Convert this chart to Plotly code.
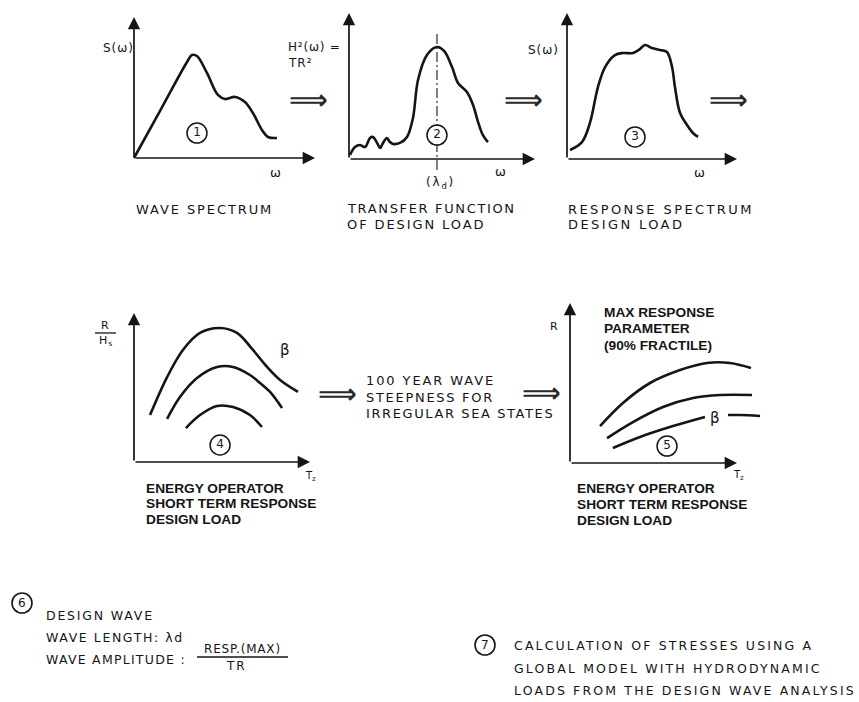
import plotly.graph_objects as go

W, H = 859, 702

# ---------------- data (in each panel's own axis units, 0..10) ----------------
# Panel 1: wave spectrum S(w)
p1_w = [0, 1.5, 2.93, 3.20, 3.48, 4.03, 4.64, 5.03, 5.58, 6.13, 6.57, 7.07, 7.40, 7.90]
p1_s = [0, 3.49, 6.81, 7.30, 7.23, 6.03, 4.47, 4.18, 4.33, 3.97, 3.19, 1.99, 1.49, 1.42]

# Panel 2: transfer function H^2(w)
p2_w = [0.05, 0.32, 0.59, 0.86, 1.13, 1.29, 1.51, 1.67, 1.83, 2.04, 2.20, 2.37, 2.74, 3.12,
        3.44, 3.71, 4.19, 4.73, 5.11, 5.54, 5.86, 6.34, 6.67, 6.94, 7.20, 7.47]
p2_h = [0.27, 0.82, 0.96, 0.82, 1.44, 1.51, 1.10, 0.75, 1.10, 1.44, 1.16, 1.03, 1.10, 1.51,
        2.81, 5.41, 7.12, 7.67, 7.40, 6.30, 5.21, 4.59, 3.70, 2.53, 1.64, 1.16]
p2_design_w = 4.73          # lambda_d position
p2_design_span = [-0.75, 8.70]

# Panel 3: response spectrum
p3_w = [0.18, 0.88, 1.35, 1.82, 2.24, 2.82, 3.29, 3.88, 4.29, 4.59, 5.00, 5.47, 5.88, 6.18,
        6.35, 6.65, 7.06, 7.41, 7.71]
p3_s = [0.62, 1.16, 2.47, 4.93, 6.30, 7.12, 7.26, 7.26, 7.53, 7.81, 7.60, 7.47, 7.33, 6.30,
        4.93, 3.15, 2.33, 1.78, 1.51]

# Panel 4: R/Hs vs Tz (three beta curves)
p4_tz = [[0.91, 1.88, 2.78, 3.75, 4.89, 5.85, 6.76, 7.56, 8.30, 9.32],
         [1.88, 2.61, 3.58, 4.72, 5.63, 6.59, 7.16, 7.73, 8.41],
         [2.95, 3.75, 4.72, 5.63, 6.59, 7.27]]
p4_r = [[3.15, 5.70, 7.52, 8.66, 8.99, 8.66, 7.52, 6.38, 5.50, 4.70],
        [2.89, 4.36, 5.64, 6.38, 6.38, 5.84, 5.30, 4.70, 3.62],
        [2.28, 3.15, 3.76, 3.69, 3.15, 2.35]]

# Panel 5: max response R vs Tz (three beta curves, lowest one broken by label)
p5_tz = [[1.80, 3.17, 4.79, 6.59, 8.20, 9.58, 10.84],
         [2.22, 3.77, 5.57, 7.37, 8.98, 10.90],
         [2.57, 4.19, 6.17, 8.08],
         [9.46, 10.18, 11.38]]
p5_r = [[2.31, 3.75, 5.00, 5.81, 6.25, 6.25, 5.94],
        [1.56, 2.56, 3.50, 4.06, 4.25, 4.25],
        [0.94, 1.63, 2.31, 2.88],
        [3.00, 3.00, 2.94]]

# circled step numbers inside panels: (panel, x, y, label)
step_marks = [(1, 3.48, 1.77, "1"), (2, 4.73, 1.64, "2"), (3, 4.00, 1.51, "3"),
              (4, 4.89, 1.14, "4"), (5, 5.81, 1.06, "5")]

# ---------------- layout of panels (pixel origin, px per unit) ----------------
panels = [
    dict(ox=134, oy=158, sx=18.1, sy=14.1, xr=[-0.5, 10.5], yr=[-1.5, 10.5]),
    dict(ox=349, oy=159, sx=18.6, sy=14.6, xr=[-0.5, 10.5], yr=[-1.5, 10.5]),
    dict(ox=567, oy=159, sx=17.0, sy=14.6, xr=[-0.5, 10.5], yr=[-1.5, 10.5]),
    dict(ox=134, oy=462, sx=17.6, sy=14.9, xr=[-0.5, 10.5], yr=[-1.5, 10.5]),
    dict(ox=570, oy=463, sx=16.7, sy=16.0, xr=[-0.5, 12.0], yr=[-1.5, 10.5]),
]

INK = "#151515"
CURVE_W = 2.6


def refs(i):
    return ("x", "y") if i == 1 else (f"x{i}", f"y{i}")


fig = go.Figure()
layout = dict(width=W, height=H, margin=dict(l=0, r=0, t=0, b=0),
              paper_bgcolor="white", plot_bgcolor="rgba(0,0,0,0)", showlegend=False)
annotations = []
shapes = []

for i, p in enumerate(panels, start=1):
    xk = "xaxis" if i == 1 else f"xaxis{i}"
    yk = "yaxis" if i == 1 else f"yaxis{i}"
    xr_, yr_ = refs(i)
    dx = [(p["ox"] + p["xr"][0] * p["sx"]) / W, (p["ox"] + p["xr"][1] * p["sx"]) / W]
    dy = [1 - (p["oy"] - p["yr"][0] * p["sy"]) / H, 1 - (p["oy"] - p["yr"][1] * p["sy"]) / H]
    layout[xk] = dict(domain=dx, range=p["xr"], visible=False, anchor=yr_, fixedrange=True)
    layout[yk] = dict(domain=dy, range=p["yr"], visible=False, anchor=xr_, fixedrange=True)
    # axis arrows
    for (hx, hy) in [(10, 0), (0, 10)]:
        annotations.append(dict(x=hx, y=hy, ax=0, ay=0, xref=xr_, yref=yr_, axref=xr_, ayref=yr_,
                                text="", showarrow=True, arrowhead=2, arrowsize=1.45,
                                arrowwidth=1.7, arrowcolor=INK, standoff=0, startstandoff=0))


def curve(xs, ys, i):
    xr_, yr_ = refs(i)
    fig.add_trace(go.Scatter(x=xs, y=ys, xaxis=xr_, yaxis=yr_, mode="lines",
                             line=dict(color=INK, width=CURVE_W, shape="spline", smoothing=1.0),
                             hoverinfo="skip"))


curve(p1_w, p1_s, 1)
# design wave dash-dot line
fig.add_trace(go.Scatter(x=[p2_design_w, p2_design_w], y=p2_design_span, xaxis="x2", yaxis="y2",
                         mode="lines", line=dict(color=INK, width=1.1, dash="10px,3px,2px,3px"),
                         hoverinfo="skip"))
curve(p2_w, p2_h, 2)
curve(p3_w, p3_s, 3)
for xs, ys in zip(p4_tz, p4_r):
    curve(xs, ys, 4)
for xs, ys in zip(p5_tz, p5_r):
    curve(xs, ys, 5)

for (i, x, y, lab) in step_marks:
    xr_, yr_ = refs(i)
    fig.add_trace(go.Scatter(x=[x], y=[y], xaxis=xr_, yaxis=yr_, mode="markers+text",
                             marker=dict(symbol="circle", size=20, color="white",
                                         line=dict(color=INK, width=1.5)),
                             text=[lab], textposition="middle center",
                             textfont=dict(family="DejaVu Sans", size=12, color=INK),
                             hoverinfo="skip", cliponaxis=False))

# ---------------- text ----------------
def P(x, y):
    return x / W, 1 - y / H


def spaced(s, ls):
    return f'<span style="letter-spacing:{ls}px">{s}</span>'


REG = "DejaVu Sans"
BOLD = "Liberation Sans"


def txt(x, y, s, size=13, family=REG, xanchor="left", yanchor="middle", color=INK, ls=None,
        bold=False):
    px, py = P(x, y)
    t = spaced(s, ls) if ls is not None else s
    if bold:
        t = "<b>" + t + "</b>"
    annotations.append(dict(x=px, y=py, xref="paper", yref="paper", text=t, showarrow=False,
                            xanchor=xanchor, yanchor=yanchor, borderpad=0,
                            font=dict(family=family, size=size, color=color)))


def lines(x, ys, items, **kw):
    for (y, (s, ls)) in zip(ys, items):
        txt(x, y, s, ls=ls, **kw)


# axis labels
txt(119, 48, "S(ω)", size=12, xanchor="center", ls=1)
txt(287, 47, "H²(ω) =", size=12, ls=0.8)
txt(287, 63, "TR²", size=12, ls=1)
txt(543, 50, "S(ω)", size=12, xanchor="center", ls=1)
txt(275, 173, "ω", size=13, xanchor="center")
txt(500, 172, "ω", size=13, xanchor="center")
txt(699, 173, "ω", size=13, xanchor="center")
txt(440, 183, "(λ<sub>d</sub>)", size=12, xanchor="center", ls=1.8)
txt(105, 325, "R", size=11, xanchor="center")
txt(106, 341, "H<sub>s</sub>", size=11, xanchor="center", ls=1)
shapes.append(dict(type="line", xref="paper", yref="paper",
                   x0=P(95, 0)[0], x1=P(116, 0)[0], y0=P(0, 333)[1], y1=P(0, 333)[1],
                   line=dict(color=INK, width=1.3)))
txt(554, 326, "R", size=11, xanchor="center")
txt(310, 476, "T<sub>z</sub>", size=10, xanchor="center")
txt(738, 475, "T<sub>z</sub>", size=10, xanchor="center")
txt(285, 350, "β", size=15, xanchor="center")
txt(715, 418, "β", size=15, xanchor="center")

# captions
txt(135, 209, "WAVE SPECTRUM", ls=1.9)
lines(346, [208, 224], [("TRANSFER FUNCTION", 1.65), ("OF DESIGN LOAD", 1.9)])
lines(567, [209, 225], [("RESPONSE SPECTRUM", 2.4), ("DESIGN LOAD", 2.4)])
lines(365, [381, 397, 413], [("100 YEAR WAVE", 1.9), ("STEEPNESS FOR", 1.7),
                             ("IRREGULAR SEA STATES", 1.6)])

bold_block = [("ENERGY OPERATOR", 0), ("SHORT TERM RESPONSE", 0), ("DESIGN LOAD", 0)]
lines(145, [488, 503, 519], bold_block, size=13.7, family=BOLD, bold=True)
lines(576, [488, 504, 520], bold_block, size=13.7, family=BOLD, bold=True)
lines(603, [312, 328, 345], [("MAX RESPONSE", 0), ("PARAMETER", 0), ("(90% FRACTILE)", 0)],
      size=13.7, family=BOLD, bold=True)

# double arrows between steps
for (ax_, ay_) in [(308, 100), (523, 100), (728, 100), (337, 393), (541, 392)]:
    txt(ax_, ay_, "<b>⟹</b>", size=27, xanchor="center", color="#2a2a2a")

# step 6
txt(45, 615, "DESIGN WAVE", size=12.5, ls=1.8)
txt(45, 637, "WAVE LENGTH: λd", size=12.5, ls=1.6)
txt(45, 659, "WAVE AMPLITUDE :", size=12.5, ls=1.25)
txt(242, 649, "RESP.(MAX)", size=12, xanchor="center", ls=0.8)
txt(236, 666, "TR", size=12, xanchor="center", ls=2)
shapes.append(dict(type="line", xref="paper", yref="paper",
                   x0=P(197, 0)[0], x1=P(288, 0)[0], y0=P(0, 657)[1], y1=P(0, 657)[1],
                   line=dict(color=INK, width=1.3)))

# step 7
txt(513, 645, "CALCULATION OF STRESSES USING A", size=12.5, ls=2.15)
txt(513, 668, "GLOBAL MODEL WITH HYDRODYNAMIC", size=12.5, ls=2.15)
txt(513, 690, "LOADS FROM THE DESIGN WAVE ANALYSIS", size=12.5, ls=2.15)

# circled numbers outside panels
for (cx, cy, lab) in [(22, 603, "6"), (485, 645, "7")]:
    ax, ay = P(cx, cy)
    shapes.append(dict(type="circle", xref="paper", yref="paper", xsizemode="pixel",
                       ysizemode="pixel", xanchor=ax, yanchor=ay, x0=-10, x1=10, y0=-10, y1=10,
                       line=dict(color=INK, width=1.6)))
    txt(cx, cy, lab, size=12, xanchor="center")

layout["annotations"] = annotations
layout["shapes"] = shapes
fig.update_layout(**layout)
fig.write_html("out.html")
